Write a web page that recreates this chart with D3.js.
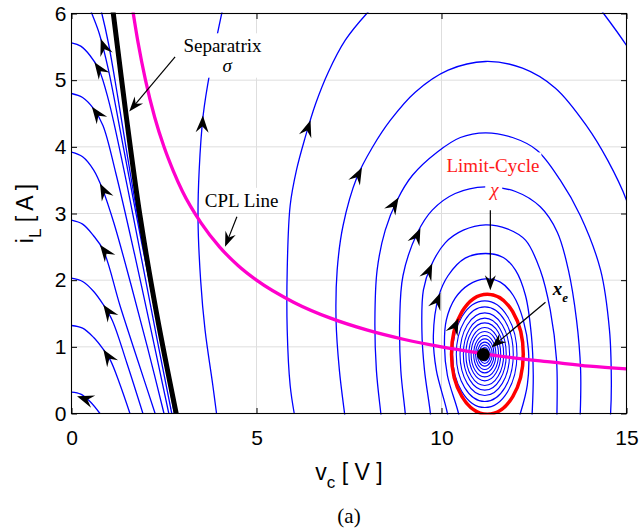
<!DOCTYPE html>
<html>
<head>
<meta charset="utf-8">
<script src="https://cdn.jsdelivr.net/npm/d3@7"></script>
<style>
  html, body { margin: 0; padding: 0; background: #fff; }
  svg { display: block; }
</style>
</head>
<body>
<svg id="chart" width="639" height="531"></svg>
<script>
// ---------------- data (v_C in volts, i_L in amperes) ----------------
const vTicks = [0, 5, 10, 15];
const iTicks = [0, 1, 2, 3, 4, 5, 6];

// trajectories left of the separatrix (voltage collapse region)
const fan1 = [[0, 0.32], [0.25, 0.29], [0.5, 0.18], [0.77, 0]];
const fan2 = [[0, 1.32], [0.3, 1.28], [0.6, 1.14], [0.85, 0.97], [1.05, 0.8], [1.3, 0.45], [1.58, 0]];
const fan3 = [[0, 2.03], [0.3, 1.98], [0.6, 1.83], [0.85, 1.64], [1.1, 1.40], [1.5, 0.75], [1.93, 0]];
const fan4 = [[0, 2.90], [0.3, 2.84], [0.59, 2.67], [0.86, 2.45], [1.31, 1.62], [1.8, 0.78], [2.26, 0]];
const fan5 = [[0, 3.92], [0.3, 3.85], [0.6, 3.65], [0.85, 3.35], [1.15, 2.85], [1.6, 1.95], [2.05, 1.0], [2.50, 0]];
const fan6 = [[0, 4.80], [0.3, 4.74], [0.6, 4.57], [0.85, 4.32], [1.2, 3.6], [1.7, 2.4], [2.15, 1.25], [2.63, 0]];
const fan7 = [[0, 5.56], [0.25, 5.51], [0.5, 5.37], [0.75, 5.15], [1.0, 4.7], [1.4, 3.7], [1.9, 2.3], [2.3, 1.15], [2.71, 0]];
const fan8 = [[0.45, 6.15], [0.55, 6.0], [0.75, 5.7], [1.0, 5.15], [1.4, 4.0], [1.9, 2.55], [2.35, 1.3], [2.78, 0]];
const fan9 = [[0.72, 6.2], [0.82, 6.0], [1.0, 5.55], [1.25, 4.75], [1.68, 3.3], [2.12, 1.95], [2.42, 1.05], [2.80, 0]];
const fanCurves = [fan1, fan2, fan3, fan4, fan5, fan6, fan7, fan8, fan9];

// separatrix sigma
const separatrix = [[1.08, 6.2], [1.13, 6.0], [1.47, 4.5], [1.85, 2.97], [2.3, 1.5], [2.83, 0]];

// open trajectories leaving through the top
const orbitA = [[3.92, 0], [3.82, 0.42], [3.61, 1.25], [3.49, 2.0], [3.42, 2.90], [3.45, 3.64], [3.56, 4.48], [3.75, 5.15], [4.06, 6.0], [4.12, 6.15]];
const orbitB = [[6.02, 0], [5.91, 0.42], [5.83, 1.25], [5.83, 2.15], [5.91, 3.12], [6.08, 3.65], [6.31, 4.13], [6.6, 4.65], [6.94, 5.12], [7.4, 5.6], [7.98, 6.0], [8.25, 6.15]];
const orbitBReturn = [[13.95, 6.3], [14.38, 6.0], [15.0, 5.52], [15.4, 5.15]];

// large orbits around the equilibrium
const ringC = [[7.45, -0.3], [7.38, 0], [7.24, 0.65], [7.15, 1.40], [7.18, 2.15], [7.34, 2.82], [7.72, 3.55], [8.13, 3.99], [8.62, 4.40], [9.29, 4.82], [10.18, 5.15], [11.19, 5.28], [12.19, 5.18], [13.08, 4.88], [13.94, 4.30], [14.49, 3.80], [15.0, 3.20], [15.38, 2.45]];
const ringD = [[8.42, -0.3], [8.36, 0], [8.24, 0.65], [8.20, 1.40], [8.26, 2.15], [8.48, 2.75], [8.80, 3.20], [9.21, 3.57], [9.88, 3.92], [10.51, 4.14], [11.19, 4.21], [11.92, 4.14], [12.58, 3.95], [13.21, 3.50], [13.75, 2.97], [14.30, 2.15], [14.54, 1.25], [14.59, 0.50], [14.57, 0], [14.52, -0.3]];
const ringE = [[9.06, -0.3], [9.02, 0], [8.90, 0.65], [8.87, 1.40], [8.96, 2.07], [9.34, 2.70], [9.75, 3.05], [10.37, 3.30], [11.19, 3.40], [12.0, 3.33], [12.67, 3.10], [13.13, 2.72], [13.43, 2.15], [13.65, 1.40], [13.76, 0.65], [13.75, 0], [13.72, -0.3]];
const ringF = [[9.74, -0.3], [9.70, 0], [9.54, 0.65], [9.47, 1.25], [9.51, 1.85], [9.72, 2.22], [10.10, 2.56], [10.59, 2.75], [11.19, 2.83], [11.78, 2.77], [12.27, 2.60], [12.67, 2.15], [12.94, 1.55], [13.11, 0.80], [13.12, 0], [13.10, -0.3]];
const ringG = [[10.22, -0.3], [10.16, 0], [9.86, 0.65], [9.78, 1.17], [9.92, 1.75], [10.18, 2.07], [10.64, 2.33], [11.19, 2.40], [11.67, 2.34], [12.00, 2.15], [12.27, 1.77], [12.43, 1.17], [12.48, 0.57], [12.45, 0], [12.42, -0.3]];
const ringH = [[10.55, -0.3], [10.46, 0], [10.16, 0.57], [10.08, 1.02], [10.13, 1.40], [10.37, 1.73], [10.73, 1.93], [11.19, 2.02], [11.59, 1.97], [11.94, 1.77], [12.21, 1.40], [12.35, 0.95], [12.32, 0.43], [12.13, 0], [12.0, -0.2]];
const outerRings = [ringC, ringD, ringE, ringF, ringG, ringH];

// small orbits inside the limit cycle (semi-axes)
const innerCenter = [11.17, 0.89];
const innerRx = [0.87, 0.77, 0.67, 0.58, 0.51, 0.43, 0.37, 0.30, 0.25, 0.20, 0.15, 0.11, 0.07];
const innerRy = [0.80, 0.71, 0.62, 0.54, 0.47, 0.40, 0.34, 0.28, 0.23, 0.18, 0.14, 0.10, 0.065];

// limit cycle chi and equilibrium x_e
const limitCenter = [11.24, 0.89];
const limitRadii = [0.97, 0.90];
const equilibrium = [11.13, 0.885];

// constant power load line
const cplV = [1.6, 1.8, 2, 2.25, 2.5, 2.75, 3, 3.5, 4, 4.5, 5, 6, 7, 8, 9, 10, 11, 12, 13, 14, 15];
const cplI = [6.25, 5.56, 5, 4.44, 4, 3.64, 3.33, 2.86, 2.5, 2.22, 2, 1.67, 1.43, 1.25, 1.11, 1, 0.91, 0.83, 0.77, 0.71, 0.67];

// direction markers on trajectories: [v, i, dv, di]
const flowArrows = [
  [0.15, 0.26, -0.08, 0.015],
  [0.86, 0.96, -1, 0.85],
  [0.86, 1.63, -1, 0.8],
  [0.77, 2.53, -1, 0.75],
  [0.77, 3.45, -1, 1.1],
  [0.55, 4.60, -1, 0.75],
  [0.62, 5.27, -1, 0.8],
  [0.79, 5.62, -0.65, 1],
  [3.55, 4.47, 0.08, 1],
  [6.46, 4.40, 0.6, 1],
  [7.85, 3.69, 0.93, 1],
  [8.84, 3.24, 1.1, 1],
  [9.43, 2.78, 0.8, 1],
  [9.75, 2.25, 0.8, 1],
  [9.97, 1.81, 0.7, 1],
  [10.46, 1.43, 0.8, 1]
];

// ---------------- layout ----------------
const svg = d3.select("#chart");
const plotLeft = 71.5, plotRight = 626.5, plotTop = 13.5, plotBottom = 413.5;
const x = d3.scaleLinear().domain([0, 15]).range([plotLeft, plotRight]);
const y = d3.scaleLinear().domain([0, 6]).range([plotBottom, plotTop]);

const sansFont = "'Liberation Sans', Arial, Helvetica, sans-serif";
const serifFont = "'Liberation Serif', 'Times New Roman', Times, serif";

const defs = svg.append("defs");
defs.append("clipPath").attr("id", "plotClip")
  .append("rect")
  .attr("x", plotLeft).attr("y", plotTop - 1)
  .attr("width", plotRight - plotLeft).attr("height", plotBottom - plotTop + 2);

// grid
const grid = svg.append("g").attr("stroke", "#dedede").attr("stroke-width", 1);
grid.selectAll("line.gv").data(vTicks.filter(v => v > 0 && v < 15)).enter().append("line")
  .attr("x1", d => x(d)).attr("x2", d => x(d)).attr("y1", plotTop).attr("y2", plotBottom);
grid.selectAll("line.gi").data(iTicks.filter(i => i > 0 && i < 6)).enter().append("line")
  .attr("y1", d => y(d)).attr("y2", d => y(d)).attr("x1", plotLeft).attr("x2", plotRight);

const plot = svg.append("g").attr("clip-path", "url(#plotClip)");
const lineGen = d3.line()
  .x(d => x(d[0])).y(d => y(d[1]))
  .curve(d3.curveCatmullRom.alpha(0.5));

const blue = "#0000ff";
const blueWidth = 1.3;

// trajectories
plot.selectAll("path.fan").data(fanCurves).enter().append("path")
  .attr("d", lineGen).attr("fill", "none").attr("stroke", blue).attr("stroke-width", blueWidth);
plot.selectAll("path.open").data([orbitA, orbitB, orbitBReturn]).enter().append("path")
  .attr("d", lineGen).attr("fill", "none").attr("stroke", blue).attr("stroke-width", blueWidth);
plot.selectAll("path.ring").data(outerRings).enter().append("path")
  .attr("d", lineGen).attr("fill", "none").attr("stroke", blue).attr("stroke-width", blueWidth);

const innerOrbits = innerRx.map((rx, k) => ({ rx: rx, ry: innerRy[k] }));
plot.selectAll("ellipse.inner").data(innerOrbits).enter().append("ellipse")
  .attr("cx", x(innerCenter[0])).attr("cy", y(innerCenter[1]))
  .attr("rx", d => x(innerCenter[0] + d.rx) - x(innerCenter[0]))
  .attr("ry", d => y(innerCenter[1]) - y(innerCenter[1] + d.ry))
  .attr("fill", "none").attr("stroke", blue).attr("stroke-width", 1.1);

// separatrix
plot.append("path").datum(separatrix).attr("d", lineGen)
  .attr("fill", "none").attr("stroke", "#000").attr("stroke-width", 5);

// limit cycle
plot.append("ellipse")
  .attr("cx", x(limitCenter[0])).attr("cy", y(limitCenter[1]))
  .attr("rx", x(limitCenter[0] + limitRadii[0]) - x(limitCenter[0]))
  .attr("ry", y(limitCenter[1]) - y(limitCenter[1] + limitRadii[1]))
  .attr("fill", "none").attr("stroke", "#ff0000").attr("stroke-width", 3.5);

// CPL line
const cplPoints = cplV.map((v, k) => [v, cplI[k]]);
plot.append("path").datum(cplPoints)
  .attr("d", d3.line().x(d => x(d[0])).y(d => y(d[1])).curve(d3.curveMonotoneX))
  .attr("fill", "none").attr("stroke", "#ff00cc").attr("stroke-width", 3.3);

// equilibrium point
svg.append("circle").attr("cx", x(equilibrium[0])).attr("cy", y(equilibrium[1]))
  .attr("r", 6.5).attr("fill", "#000");

// arrowhead shape (notched) at a tip position, pointing along screen vector
function arrowHead(px, py, sx, sy, len, half, notch) {
  const n = Math.hypot(sx, sy), ux = sx / n, uy = sy / n, nx = -uy, ny = ux;
  const p = d3.path();
  p.moveTo(px, py);
  p.lineTo(px - len * ux + half * nx, py - len * uy + half * ny);
  p.lineTo(px - notch * ux, py - notch * uy);
  p.lineTo(px - len * ux - half * nx, py - len * uy - half * ny);
  p.closePath();
  return p.toString();
}

svg.append("g").selectAll("path").data(flowArrows).enter().append("path")
  .attr("d", d => arrowHead(x(d[0]), y(d[1]),
    x(d[0] + d[2]) - x(d[0]), y(d[1] + d[3]) - y(d[1]), 17, 6.5, 11))
  .attr("fill", "#000");

// ---------------- annotations ----------------
function boxed(g, pad) {
  const b = g.node().getBBox();
  g.insert("rect", ":first-child")
    .attr("x", b.x - pad).attr("y", b.y - pad)
    .attr("width", b.width + 2 * pad).attr("height", b.height + 2 * pad)
    .attr("fill", "#fff");
}

const sepLabel = svg.append("g").attr("font-family", serifFont).attr("font-size", 19).attr("fill", "#000");
sepLabel.append("text").attr("x", x(4.08)).attr("y", y(5.418)).attr("text-anchor", "middle").text("Separatrix");
sepLabel.append("text").attr("x", x(4.21)).attr("y", y(5.127)).attr("text-anchor", "middle")
  .attr("font-style", "italic").text("σ");
boxed(sepLabel, 2);

const cplLabel = svg.append("g").attr("font-family", serifFont).attr("font-size", 19).attr("fill", "#000");
cplLabel.append("text").attr("x", x(4.60)).attr("y", y(3.10)).attr("text-anchor", "middle").text("CPL Line");
boxed(cplLabel, 2);

const lcLabel = svg.append("g").attr("font-family", serifFont).attr("font-size", 19).attr("fill", "#ff1a1a");
lcLabel.append("text").attr("x", x(11.39)).attr("y", y(3.63)).attr("text-anchor", "middle").text("Limit-Cycle");
boxed(lcLabel, 2);

const chiLabel = svg.append("g").attr("font-family", serifFont).attr("font-size", 19).attr("fill", "#ff1a1a");
chiLabel.append("text").attr("x", x(11.43)).attr("y", y(3.27)).attr("text-anchor", "middle")
  .attr("font-style", "italic").text("χ");
boxed(chiLabel, 3);

const xeLabel = svg.append("text").attr("x", x(13.01)).attr("y", y(1.78))
  .attr("font-family", serifFont).attr("font-size", 19).attr("font-style", "italic")
  .attr("font-weight", "bold").attr("fill", "#000");
xeLabel.append("tspan").text("x");
xeLabel.append("tspan").attr("dy", 7).attr("font-size", 13).text("e");

// pointer arrows: [tail, head]
const pointers = [
  [[2.80, 5.35], [1.56, 4.53]],
  [[4.47, 2.95], [4.15, 2.50]],
  [[11.32, 3.05], [11.32, 1.85]],
  [[12.81, 1.67], [11.35, 0.99]]
];
const ptr = svg.append("g");
pointers.forEach(([a, b]) => {
  const x1 = x(a[0]), y1 = y(a[1]), x2 = x(b[0]), y2 = y(b[1]);
  const n = Math.hypot(x2 - x1, y2 - y1);
  ptr.append("line").attr("x1", x1).attr("y1", y1)
    .attr("x2", x2 - (x2 - x1) / n * 8).attr("y2", y2 - (y2 - y1) / n * 8)
    .attr("stroke", "#000").attr("stroke-width", 1.2);
  ptr.append("path").attr("d", arrowHead(x2, y2, x2 - x1, y2 - y1, 15, 5.5, 10)).attr("fill", "#000");
});

// ---------------- axes ----------------
const axisG = svg.append("g");
const fmt = d3.format("d");
axisG.append("g").attr("transform", `translate(0,${plotBottom})`)
  .call(d3.axisBottom(x).tickValues(vTicks).tickFormat(fmt).tickSize(-5.5).tickPadding(16.5));
axisG.append("g").attr("transform", `translate(${plotLeft},0)`)
  .call(d3.axisLeft(y).tickValues(iTicks).tickFormat(fmt).tickSize(-5.5).tickPadding(5));
axisG.append("g").attr("transform", `translate(0,${plotTop})`)
  .call(d3.axisTop(x).tickValues(vTicks).tickFormat("").tickSize(-5.5));
axisG.append("g").attr("transform", `translate(${plotRight},0)`)
  .call(d3.axisRight(y).tickValues(iTicks).tickFormat("").tickSize(-5.5));
axisG.selectAll(".domain").remove();
axisG.selectAll(".tick line").attr("stroke", "#000").attr("stroke-width", 1);
axisG.selectAll("text").attr("font-family", sansFont).attr("font-size", 21).attr("fill", "#000");

svg.append("rect").attr("x", plotLeft).attr("y", plotTop)
  .attr("width", plotRight - plotLeft).attr("height", plotBottom - plotTop)
  .attr("fill", "none").attr("stroke", "#000").attr("stroke-width", 1.1);

// axis titles
const xTitle = svg.append("text").attr("x", (plotLeft + plotRight) / 2).attr("y", 480)
  .attr("text-anchor", "middle").attr("font-family", sansFont).attr("font-size", 23).attr("fill", "#000");
xTitle.append("tspan").text("v");
xTitle.append("tspan").attr("dy", 8).attr("font-size", 17).text("c");
xTitle.append("tspan").attr("dy", -8).text(" [ V ]");

const yTitle = svg.append("text")
  .attr("transform", `translate(32.5,${(plotTop + plotBottom) / 2}) rotate(-90)`)
  .attr("text-anchor", "middle").attr("font-family", sansFont).attr("font-size", 23).attr("fill", "#000");
yTitle.append("tspan").text("i");
yTitle.append("tspan").attr("dy", 8).attr("font-size", 17).text("L");
yTitle.append("tspan").attr("dy", -8).text(" [ A ]");

// panel caption
svg.append("text").attr("x", 349).attr("y", 523).attr("text-anchor", "middle")
  .attr("font-family", serifFont).attr("font-size", 21).attr("fill", "#000").text("(a)");
</script>
</body>
</html>
